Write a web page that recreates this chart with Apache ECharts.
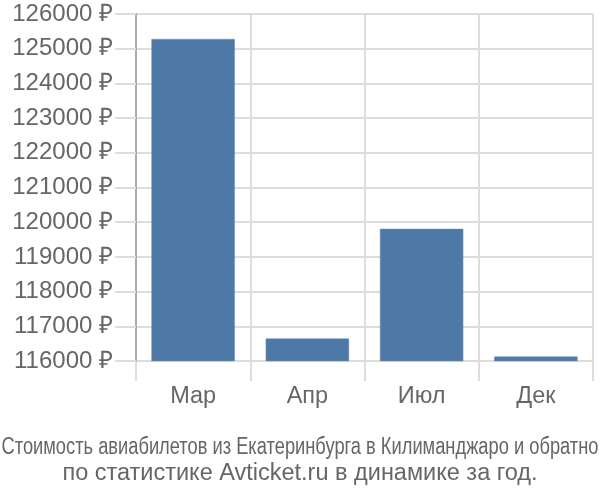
<!DOCTYPE html>
<html><head><meta charset="utf-8">
<script src="https://cdn.jsdelivr.net/npm/echarts@6/dist/echarts.min.js"></script>
<style>html,body{margin:0;padding:0;background:#fff}#c{width:600px;height:500px}</style>
</head><body><div id="c"></div>
<script>
var categories = ['Мар', 'Апр', 'Июл', 'Дек'];
var prices = [125280, 116650, 119810, 116130];
var yMin = 116000, yMax = 126000, yStep = 1000;
var titleLine1 = 'Стоимость авиабилетов из Екатеринбурга в Килиманджаро и обратно';
var titleLine2 = 'по статистике Avticket.ru в динамике за год.';

var font1 = '23px "Liberation Sans", Arial, sans-serif';
var cv = document.createElement('canvas').getContext('2d');
cv.font = font1;
var w1 = cv.measureText(titleLine1).width;
var sx1 = Math.min(1, 597 / w1);

var chart = echarts.init(document.getElementById('c'));
chart.setOption({
  animation: false,
  graphic: [
    {type: 'text', x: 300, y: 448, scaleX: sx1, silent: true,
     style: {text: titleLine1, font: font1, fill: '#666', textAlign: 'center', textVerticalAlign: 'middle'}},
    {type: 'text', x: 300, y: 474, silent: true,
     style: {text: titleLine2, font: '23.5px "Liberation Sans", Arial, sans-serif', fill: '#666', textAlign: 'center', textVerticalAlign: 'middle'}}
  ],
  grid: {left: 136, right: 7, top: 14, bottom: 139, containLabel: false},
  xAxis: {
    type: 'category', data: categories,
    axisLine: {show: false},
    axisTick: {show: true, length: 20, lineStyle: {color: '#dddddd', width: 2}},
    splitLine: {show: true, lineStyle: {color: '#dddddd', width: 2}},
    axisLabel: {color: '#666', fontSize: 23.5, fontFamily: 'Liberation Sans, Arial, sans-serif', margin: 24}
  },
  yAxis: {
    type: 'value', min: yMin, max: yMax, interval: yStep,
    axisLine: {show: true, lineStyle: {color: '#aaaaaa', width: 2}},
    axisTick: {show: true, length: 21, lineStyle: {color: '#dddddd', width: 2}},
    splitLine: {show: true, lineStyle: {color: '#dddddd', width: 2}},
    axisLabel: {color: '#666', fontSize: 24, fontFamily: 'Liberation Sans, Arial, sans-serif', margin: 23,
      formatter: function (v) { return v + ' ₽'; }}
  },
  series: [{
    type: 'bar', data: prices, barWidth: '73%',
    itemStyle: {color: '#4e79a7', borderColor: '#6f93bb', borderWidth: 0.5}
  }]
});
</script></body></html>
